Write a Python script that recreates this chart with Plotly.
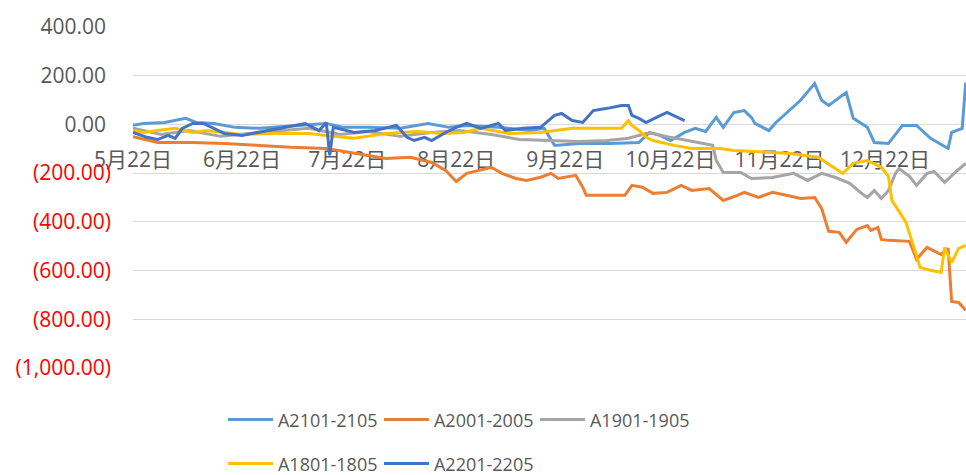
import plotly.graph_objects as go

# ---------------- data ----------------
dates_2101 = ["2020-05-22", "2020-05-25", "2020-05-31", "2020-06-06", "2020-06-09", "2020-06-14", "2020-06-20",
              "2020-06-27", "2020-07-01", "2020-07-09", "2020-07-16", "2020-07-21", "2020-07-28", "2020-08-06",
              "2020-08-14", "2020-08-20", "2020-08-25", "2020-09-03", "2020-09-12", "2020-09-16", "2020-09-19",
              "2020-09-26", "2020-10-05", "2020-10-13", "2020-10-16", "2020-10-19", "2020-10-22", "2020-10-26",
              "2020-10-29", "2020-11-01", "2020-11-04", "2020-11-06", "2020-11-09", "2020-11-12", "2020-11-14",
              "2020-11-15", "2020-11-19", "2020-11-21", "2020-11-28", "2020-12-02", "2020-12-04", "2020-12-06",
              "2020-12-11", "2020-12-13", "2020-12-17", "2020-12-19", "2020-12-23", "2020-12-27", "2020-12-31",
              "2021-01-04", "2021-01-09", "2021-01-10", "2021-01-13", "2021-01-14"]
vals_2101 = [-4, 4, 8, 25, 8, 4, -12, -16, -12, -4, 4, -12, -12, -16, 4, -12, -4, -12, -25, -16, -86,
             -78, -78, -74, -33, -45, -66, -33, -16, -29, 29, -12, 49, 57, 29, 4, -25, 8, 99, 168, 99, 78,
             131, 25, -12, -74, -78, -4, -4, -57, -99, -33, -16, 172]

dates_2001 = ["2020-05-22", "2020-05-29", "2020-06-08", "2020-06-17", "2020-06-27", "2020-07-06", "2020-07-16",
              "2020-07-24", "2020-08-02", "2020-08-09", "2020-08-15", "2020-08-19", "2020-08-22", "2020-08-25",
              "2020-08-28", "2020-09-01", "2020-09-04", "2020-09-08", "2020-09-11", "2020-09-15", "2020-09-18",
              "2020-09-20", "2020-09-25", "2020-09-27", "2020-09-28", "2020-10-09", "2020-10-11", "2020-10-14",
              "2020-10-17", "2020-10-21", "2020-10-25", "2020-10-28", "2020-11-02", "2020-11-06", "2020-11-10",
              "2020-11-12", "2020-11-16", "2020-11-20", "2020-11-24", "2020-11-28", "2020-12-02", "2020-12-04",
              "2020-12-06", "2020-12-09", "2020-12-11", "2020-12-14", "2020-12-17", "2020-12-18", "2020-12-20",
              "2020-12-21", "2020-12-23", "2020-12-29", "2020-12-31", "2021-01-03", "2021-01-07", "2021-01-09",
              "2021-01-10", "2021-01-12", "2021-01-14"]
vals_2001 = [-50, -74, -74, -78, -86, -94, -99, -119, -140, -135, -156, -189, -234, -201, -189, -176, -201,
             -222, -230, -217, -201, -222, -209, -258, -291, -291, -250, -258, -283, -279, -250, -271, -263,
             -312, -291, -279, -300, -279, -291, -304, -300, -345, -439, -443, -484, -431, -415, -435, -423,
             -472, -476, -480, -554, -505, -534, -509, -727, -731, -763]

dates_1901 = ["2020-05-22", "2020-05-30", "2020-06-07", "2020-06-16", "2020-06-24", "2020-07-03", "2020-07-11",
              "2020-07-20", "2020-07-28", "2020-08-06", "2020-08-15", "2020-08-23", "2020-09-01", "2020-09-09",
              "2020-09-17", "2020-09-26", "2020-10-04", "2020-10-10", "2020-10-15", "2020-10-17", "2020-10-22",
              "2020-10-28", "2020-11-03", "2020-11-04", "2020-11-06", "2020-11-11", "2020-11-14", "2020-11-20",
              "2020-11-26", "2020-11-30", "2020-12-04", "2020-12-08", "2020-12-12", "2020-12-15", "2020-12-17",
              "2020-12-19", "2020-12-21", "2020-12-23", "2020-12-25", "2020-12-26", "2020-12-29", "2020-12-31",
              "2021-01-03", "2021-01-05", "2021-01-08", "2021-01-11", "2021-01-14"]
vals_1901 = [-16, -41, -25, -49, -37, -25, -16, -41, -29, -49, -33, -25, -41, -62, -66, -70, -66, -57, -37,
             -37, -53, -70, -86, -148, -197, -197, -222, -218, -201, -230, -201, -218, -242, -279, -300, -271,
             -304, -271, -201, -181, -213, -250, -201, -193, -238, -197, -160]

dates_1801 = ["2020-05-22", "2020-05-25", "2020-05-29", "2020-06-03", "2020-06-08", "2020-06-12", "2020-06-17",
              "2020-06-22", "2020-07-01", "2020-07-11", "2020-07-16", "2020-07-24", "2020-08-02", "2020-08-11",
              "2020-08-18", "2020-08-24", "2020-08-29", "2020-09-06", "2020-09-15", "2020-09-19", "2020-09-24",
              "2020-10-04", "2020-10-08", "2020-10-10", "2020-10-11", "2020-10-13", "2020-10-15", "2020-10-17",
              "2020-10-23", "2020-10-28", "2020-11-05", "2020-11-09", "2020-11-16", "2020-11-25", "2020-12-03",
              "2020-12-07", "2020-12-10", "2020-12-13", "2020-12-17", "2020-12-21", "2020-12-23", "2020-12-24",
              "2020-12-28", "2020-12-31", "2021-01-01", "2021-01-04", "2021-01-07", "2021-01-08", "2021-01-10",
              "2021-01-12", "2021-01-14"]
vals_1801 = [-25, -33, -25, -16, -33, -25, -33, -41, -37, -37, -45, -57, -37, -29, -37, -33, -16, -37, -33,
             -25, -16, -16, -16, 16, -4, -25, -53, -66, -86, -99, -99, -107, -111, -119, -135, -172, -201,
             -160, -148, -176, -213, -312, -402, -538, -587, -599, -608, -505, -567, -509, -497]

dates_2201 = ["2020-05-22", "2020-05-26", "2020-05-29", "2020-06-01", "2020-06-03", "2020-06-05", "2020-06-08",
              "2020-06-11", "2020-06-14", "2020-06-17", "2020-06-22", "2020-06-25", "2020-06-29", "2020-07-03",
              "2020-07-10", "2020-07-14", "2020-07-16", "2020-07-17", "2020-07-18", "2020-07-24", "2020-07-30",
              "2020-08-05", "2020-08-08", "2020-08-10", "2020-08-13", "2020-08-15", "2020-08-19", "2020-08-22",
              "2020-08-25", "2020-08-29", "2020-09-03", "2020-09-05", "2020-09-10", "2020-09-15", "2020-09-19",
              "2020-09-21", "2020-09-24", "2020-09-27", "2020-09-30", "2020-10-04", "2020-10-08", "2020-10-10",
              "2020-10-11", "2020-10-13", "2020-10-15", "2020-10-18", "2020-10-21", "2020-10-24", "2020-10-26"]
vals_2201 = [-33, -53, -62, -45, -57, -16, 4, 4, -16, -37, -45, -37, -25, -16, 4, -25, 8, -127, -12, -33,
             -25, -4, -53, -66, -53, -66, -33, -12, 4, -16, 4, -25, -16, -12, 37, 45, 16, 8, 57, 66, 78, 78,
             37, 25, 8, 29, 49, 29, 16]

series_names = ["A2101-2105", "A2001-2005", "A1901-1905", "A1801-1805", "A2201-2205"]
series_dates = [dates_2101, dates_2001, dates_1901, dates_1801, dates_2201]
series_vals = [vals_2101, vals_2001, vals_1901, vals_1801, vals_2201]
series_colors = ["#5B9BD5", "#ED7D31", "#A5A5A5", "#FFC000", "#4472C4"]
series_legend = ["legend", "legend", "legend", "legend2", "legend2"]

x_tick_dates = ["2020-05-22", "2020-06-22", "2020-07-22", "2020-08-22", "2020-09-22",
                "2020-10-22", "2020-11-22", "2020-12-22"]
x_tick_text = ["5月22日", "6月22日", "7月22日", "8月22日", "9月22日", "10月22日", "11月22日", "12月22日"]

y_pos_ticks = [0, 200, 400]
y_pos_text = ["0.00", "200.00", "400.00"]
y_neg_ticks = [-200, -400, -600, -800, -1000]
y_neg_text = ["(200.00)", "(400.00)", "(600.00)", "(800.00)", "(1,000.00)"]

y_min, y_max = -1000, 400
x_start, x_end = "2020-05-22", "2021-01-14 02:00"

# ---------------- figure ----------------
FONT = "Open Sans, Noto Sans CJK SC, sans-serif"
GREY = "#595959"

fig = go.Figure()
for name, d, v, c, lg in zip(series_names, series_dates, series_vals, series_colors, series_legend):
    fig.add_trace(go.Scatter(x=d, y=v, mode="lines", name=name, legend=lg,
                             line=dict(color=c, width=3), hoverinfo="skip"))

# helper (empty) trace so the second value axis exists
fig.add_trace(go.Scatter(x=[None], y=[None], yaxis="y2", showlegend=False, hoverinfo="skip"))

zero_pos = (0 - y_min) / (y_max - y_min)

fig.update_layout(
    width=966, height=475,
    margin=dict(l=133, r=0, t=27, b=107, autoexpand=False),
    paper_bgcolor="white", plot_bgcolor="white",
    font=dict(family=FONT, color=GREY),
    xaxis=dict(type="date", range=[x_start, x_end], anchor="free", position=zero_pos,
               tickvals=x_tick_dates, ticktext=x_tick_text, showgrid=False,
               showline=True, linecolor="#D9D9D9", linewidth=1, ticks="",
               ticklabelstandoff=16, layer="below traces",
               tickfont=dict(family=FONT, size=21, color=GREY)),
    yaxis=dict(range=[y_min, y_max], tickvals=y_pos_ticks, ticktext=y_pos_text,
               showgrid=True, gridcolor="#D9D9D9", gridwidth=1, zeroline=False,
               ticks="", ticklabelstandoff=26,
               tickfont=dict(family=FONT, size=21, color=GREY)),
    yaxis2=dict(range=[y_min, y_max], overlaying="y", side="left", anchor="x",
                tickvals=y_neg_ticks, ticktext=y_neg_text,
                showgrid=True, gridcolor="#D9D9D9", gridwidth=1, zeroline=False,
                ticks="", ticklabelstandoff=21,
                tickfont=dict(family=FONT, size=21, color="#FF0000")),
    legend=dict(orientation="h", x=0.108, y=-0.152, xanchor="left", yanchor="middle",
                font=dict(family=FONT, size=18, color=GREY), entrywidth=96,
                entrywidthmode="pixels", itemwidth=45, bgcolor="rgba(0,0,0,0)"),
    legend2=dict(orientation="h", x=0.108, y=-0.281, xanchor="left", yanchor="middle",
                 font=dict(family=FONT, size=18, color=GREY), entrywidth=96,
                 entrywidthmode="pixels", itemwidth=45, bgcolor="rgba(0,0,0,0)"),
    showlegend=True,
)

fig.write_html("out.html", config={"displayModeBar": False},
               post_script="document.body.style.margin='0';document.body.style.overflow='hidden';")
